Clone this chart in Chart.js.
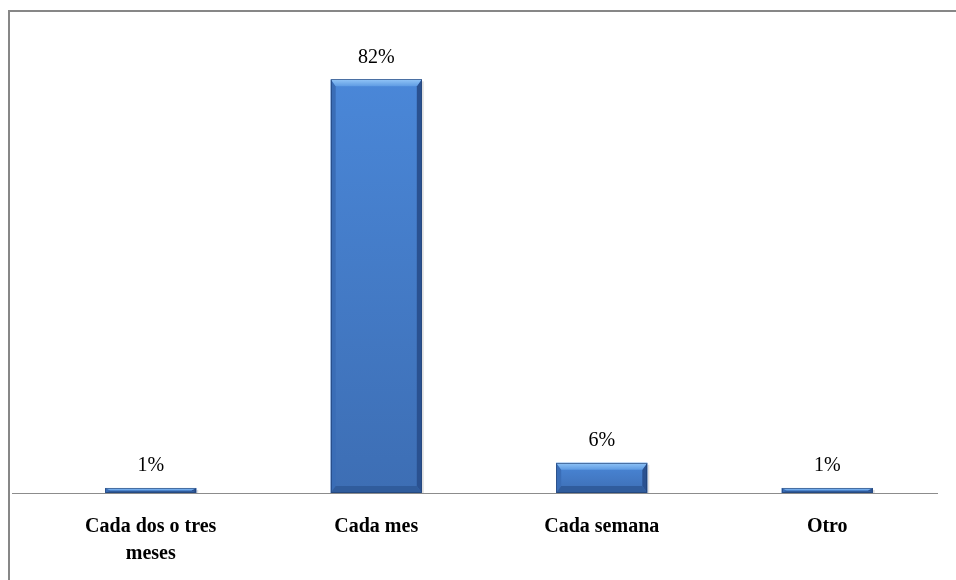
<!DOCTYPE html>
<html>
<head>
<meta charset="utf-8">
<script src="https://cdn.jsdelivr.net/npm/chart.js@4"></script>
<style>
body { margin: 0; background: #fff; overflow: hidden; }
#wrap { position: absolute; left: 0; top: 0; width: 956px; height: 580px; }
#frame { position: absolute; left: 8px; top: 10px; width: 1000px; height: 700px; border: 2px solid #878787; }
</style>
</head>
<body>
<div id="frame"></div>
<div id="wrap"><canvas id="FreqChart"></canvas></div>
<script>
// Frecuencia de compra //
var categorias = [["Cada dos o tres", "meses"], "Cada mes", "Cada semana", "Otro"];
var porcentajes = [1, 82, 6, 1];
var etiquetas = ["1%", "82%", "6%", "1%"];

// Bars drawn with the bevelled look, labels above each bar
var bevelBars = {
    id: 'bevelBars',
    afterDatasetsDraw: function(chart) {
        var ctx = chart.ctx;
        var area = chart.chartArea;
        ctx.save();
        // axis line
        ctx.strokeStyle = '#8c8c8c';
        ctx.lineWidth = 1;
        ctx.beginPath();
        ctx.moveTo(12, Math.round(area.bottom) + 0.5);
        ctx.lineTo(938, Math.round(area.bottom) + 0.5);
        ctx.stroke();

        chart.getDatasetMeta(0).data.forEach(function(bar, i) {
            var x0 = bar.x - bar.width / 2, x1 = bar.x + bar.width / 2;
            var y0 = bar.y, y1 = bar.base;
            var h = y1 - y0;
            var b = Math.min(7, h / 2);
            var s = Math.min(5, bar.width / 2);

            // shadow
            ctx.fillStyle = 'rgba(0,0,0,0.12)';
            ctx.fillRect(x1, y0 + 2, 2, h - 2);

            var face = ctx.createLinearGradient(0, y0, 0, y1);
            face.addColorStop(0, '#4a87d8');
            face.addColorStop(1, '#3d6eb4');
            ctx.fillStyle = face;
            ctx.fillRect(x0, y0, x1 - x0, h);

            // left side
            ctx.fillStyle = '#3a6db6';
            ctx.beginPath();
            ctx.moveTo(x0, y0); ctx.lineTo(x0 + s, y0 + b);
            ctx.lineTo(x0 + s, y1 - b); ctx.lineTo(x0, y1);
            ctx.closePath(); ctx.fill();

            // right side
            ctx.fillStyle = '#2a5190';
            ctx.beginPath();
            ctx.moveTo(x1, y0); ctx.lineTo(x1 - s, y0 + b);
            ctx.lineTo(x1 - s, y1 - b); ctx.lineTo(x1, y1);
            ctx.closePath(); ctx.fill();

            // bottom
            ctx.fillStyle = '#305c9c';
            ctx.beginPath();
            ctx.moveTo(x0, y1); ctx.lineTo(x0 + s, y1 - b);
            ctx.lineTo(x1 - s, y1 - b); ctx.lineTo(x1, y1);
            ctx.closePath(); ctx.fill();

            // top
            var top = ctx.createLinearGradient(0, y0, 0, y0 + b);
            top.addColorStop(0, '#92c5f7');
            top.addColorStop(1, '#5e9be3');
            ctx.fillStyle = top;
            ctx.beginPath();
            ctx.moveTo(x0, y0); ctx.lineTo(x1, y0);
            ctx.lineTo(x1 - s, y0 + b); ctx.lineTo(x0 + s, y0 + b);
            ctx.closePath(); ctx.fill();

            // outline
            ctx.strokeStyle = 'rgba(30,60,110,0.6)';
            ctx.lineWidth = 1;
            ctx.strokeRect(Math.round(x0) + 0.5, Math.round(y0) + 0.5, Math.round(x1 - x0) - 1, Math.round(h) - 1);

            // value label
            ctx.fillStyle = '#000';
            ctx.font = '20px "Liberation Serif", "Times New Roman", serif';
            ctx.textAlign = 'center';
            ctx.textBaseline = 'middle';
            ctx.fillText(etiquetas[i], bar.x, y0 - 22);
        });
        ctx.restore();
    }
};

var ctx = document.getElementById('FreqChart').getContext('2d');
var chart = new Chart(ctx, {
    type: 'bar',
    data: {
        labels: categorias,
        datasets: [{
            data: porcentajes,
            backgroundColor: 'rgba(0,0,0,0)',
            borderWidth: 0,
            categoryPercentage: 1,
            barPercentage: 0.404
        }]
    },
    options: {
        responsive: true,
        maintainAspectRatio: false,
        animation: false,
        layout: { padding: { left: 38, right: 16, top: 39, bottom: 0 } },
        plugins: { legend: { display: false }, tooltip: { enabled: false } },
        scales: {
            y: { display: false, min: 0, max: 90 },
            x: {
                afterFit: function(scale) { scale.height = 87; },
                grid: { display: false, drawTicks: false },
                border: { display: false },
                ticks: {
                    color: '#000',
                    padding: 20,
                    maxRotation: 0,
                    autoSkip: false,
                    font: { family: '"Liberation Serif", "Times New Roman", serif', size: 20, weight: 'bold', lineHeight: 1.35 }
                }
            }
        }
    },
    plugins: [bevelBars]
});
</script>
</body>
</html>
